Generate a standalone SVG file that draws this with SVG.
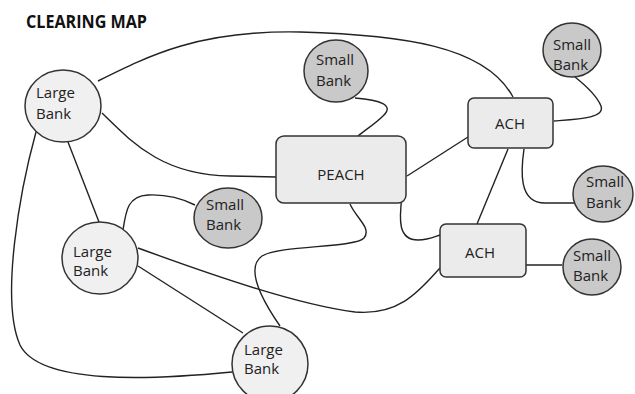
<svg xmlns="http://www.w3.org/2000/svg" width="635" height="394" viewBox="0 0 635 394">
<style>
.t{font-family:"Open Sans","Liberation Sans",sans-serif;font-size:15px;fill:#222}
.title{font-family:"Open Sans","Liberation Sans",sans-serif;font-size:18px;font-weight:bold;fill:#111}
.lg{fill:#f0f0f0;stroke:#333;stroke-width:1.5}
.sm{fill:#c9c9c9;stroke:#333;stroke-width:1.5}
.hub{fill:#ebebeb;stroke:#333;stroke-width:1.5}
.c{fill:none;stroke:#222;stroke-width:1.4}
</style>
<rect width="635" height="394" fill="#fff"/>
<text class="title" x="26" y="28" textLength="121" lengthAdjust="spacingAndGlyphs">CLEARING MAP</text>
<g id="connectors">
<path class="c" d="M98,81 C150,55 200,30 300,32 C400,35 485,45 513,97"/>
<path class="c" d="M102,113 C130,140 160,175 230,176 L276,177"/>
<path class="c" d="M36,132 C20,190 0,300 20,345 C40,385 150,380 232,372"/>
<path class="c" d="M68,142 L99,222"/>
<path class="c" d="M123,230 C126,210 128,196 148,195 C170,194 185,200 195,205"/>
<path class="c" d="M138,248 C220,278 300,305 355,312 C400,316 420,290 440,268"/>
<path class="c" d="M138,266 L243,333"/>
<path class="c" d="M350,204 C356,218 372,228 364,238 C355,248 280,245 262,256 C245,268 262,300 280,326"/>
<path class="c" d="M355,98 C380,100 395,105 383,116 C375,124 365,130 358,136"/>
<path class="c" d="M407,176 L468,137"/>
<path class="c" d="M402,196 C399,220 398,240 418,240 C428,240 434,237 440,235"/>
<path class="c" d="M508,149 L477,224"/>
<path class="c" d="M524,149 C521,170 518,203 545,203 L574,203"/>
<path class="c" d="M554,121 C580,119 605,118 601,106 C597,96 585,85 575,77"/>
<path class="c" d="M526,265 L562,265"/>
</g>
<g id="large-bank-1"><ellipse class="lg" cx="63" cy="106" rx="38" ry="36"/><text class="t" x="36" y="98">Large</text><text class="t" x="36" y="119">Bank</text></g>
<g id="large-bank-2"><ellipse class="lg" cx="100" cy="258" rx="38" ry="36"/><text class="t" x="73" y="257">Large</text><text class="t" x="73" y="276">Bank</text></g>
<g id="large-bank-3"><ellipse class="lg" cx="270" cy="364" rx="38" ry="38"/><text class="t" x="244" y="355">Large</text><text class="t" x="244" y="374">Bank</text></g>
<g id="small-bank-1"><ellipse class="sm" cx="336" cy="71" rx="32" ry="31"/><text class="t" x="316" y="65">Small</text><text class="t" x="316" y="86">Bank</text></g>
<g id="small-bank-2"><ellipse class="sm" cx="228" cy="218" rx="34" ry="30"/><text class="t" x="206" y="210">Small</text><text class="t" x="206" y="230">Bank</text></g>
<g id="small-bank-3"><ellipse class="sm" cx="572" cy="50" rx="29" ry="27"/><text class="t" x="553" y="50">Small</text><text class="t" x="553" y="70">Bank</text></g>
<g id="small-bank-4"><ellipse class="sm" cx="603" cy="194" rx="30" ry="28"/><text class="t" x="586" y="187">Small</text><text class="t" x="586" y="208">Bank</text></g>
<g id="small-bank-5"><ellipse class="sm" cx="592" cy="267" rx="29" ry="28"/><text class="t" x="573" y="261">Small</text><text class="t" x="573" y="281">Bank</text></g>
<g id="peach"><rect class="hub" x="276" y="136" width="130" height="67" rx="8"/><text class="t" x="341" y="180" text-anchor="middle">PEACH</text></g>
<g id="ach-1"><rect class="hub" x="468" y="98" width="85" height="50" rx="6"/><text class="t" x="510" y="129" text-anchor="middle">ACH</text></g>
<g id="ach-2"><rect class="hub" x="440" y="224" width="86" height="53" rx="6"/><text class="t" x="480" y="258" text-anchor="middle">ACH</text></g>
</svg>
